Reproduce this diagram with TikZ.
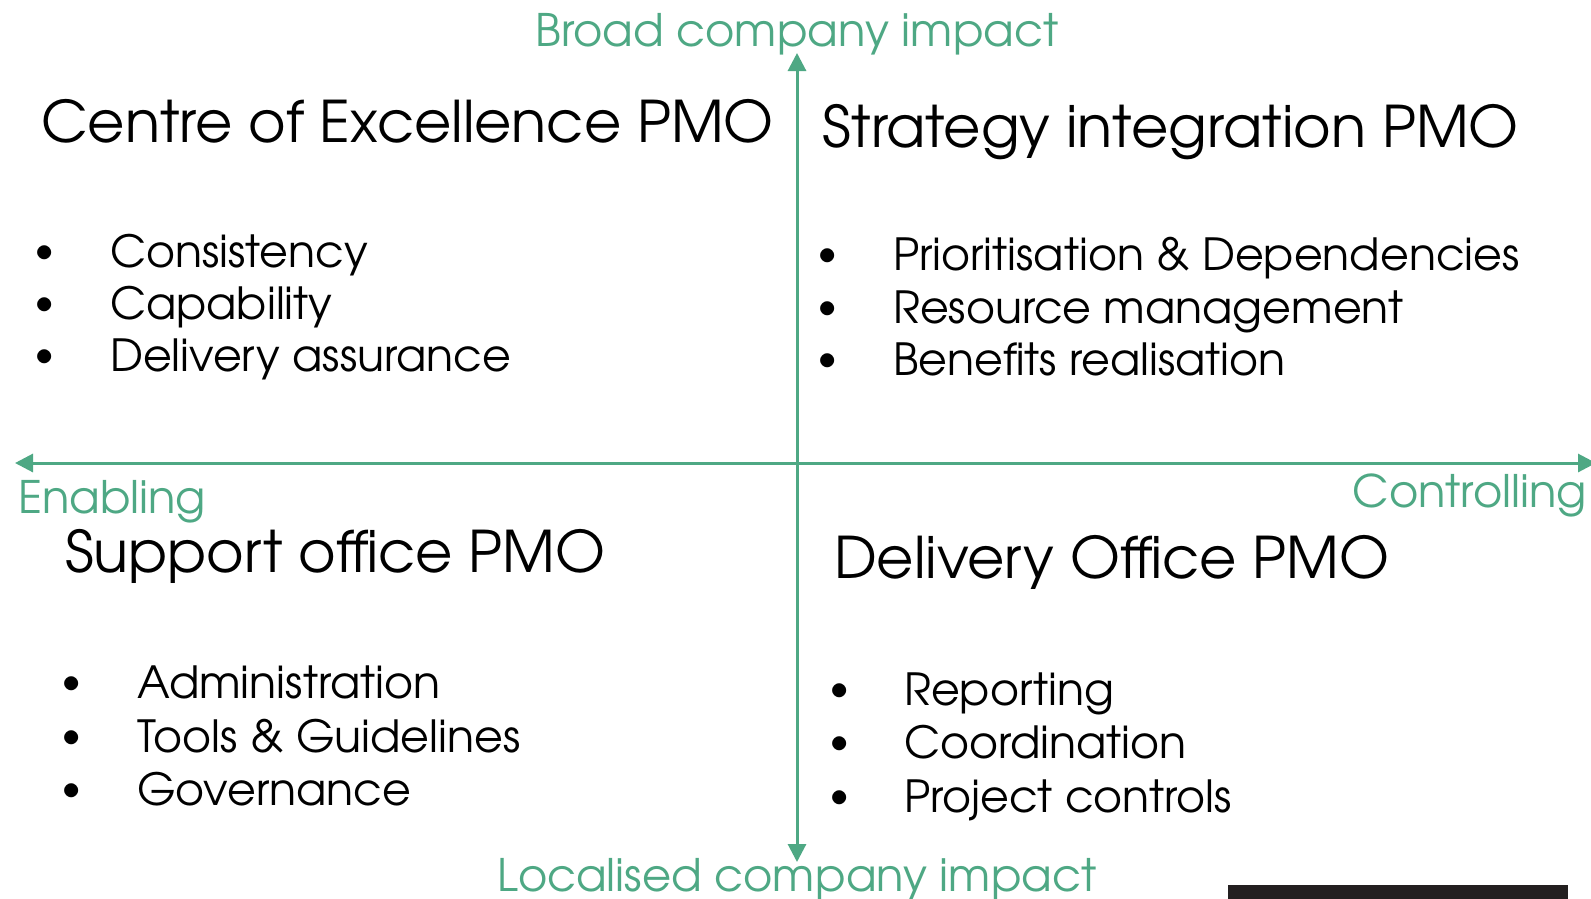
\documentclass[tikz,border=0pt]{standalone}
\usepackage{fontspec}
\setmainfont{TeX Gyre Adventor}
\usetikzlibrary{arrows.meta}
\definecolor{axisgreen}{RGB}{78,168,132}
\definecolor{barblack}{RGB}{35,31,32}
\tikzset{
  axisline/.style={draw=axisgreen, line width=3pt, {Triangle[length=18pt,width=18pt]}-{Triangle[length=18pt,width=18pt]}},
  titletext/.style={inner sep=0pt, anchor=base west, font=\fontsize{57.4}{68}\selectfont},
  itemtext/.style={inner sep=0pt, anchor=base west, font=\fontsize{44.3}{52}\selectfont},
  bullettext/.style={inner sep=0pt, anchor=base, yshift=5pt, font=\fontsize{39}{52}\selectfont},
  axislabel/.style={inner sep=0pt, text=axisgreen, font=\fontsize{44.8}{52}\selectfont},
}
\begin{document}
\begin{tikzpicture}[x=1pt,y=-1pt]
\useasboundingbox (0,0) rectangle (1591,898);
\fill[white] (0,0) rectangle (1591,898);
% axes
\coordinate (vtop) at (797,53);
\coordinate (vbot) at (797,862);
\coordinate (hleft) at (15,463);
\coordinate (hright) at (1596,463);
\draw[axisline] (vbot) -- (vtop);
\draw[axisline] (hleft) -- (hright);
% axis labels
\node[axislabel, anchor=base] (broad) at (797,46) {Broad company impact};
\node[axislabel, anchor=base] (local) at (797,891) {Localised company impact};
\node[axislabel, anchor=base west] (enab) at (18,513) {Enabling};
\node[axislabel, anchor=base east] (ctrl) at (1587,507) {Controlling};
% top left
\node[titletext] (coe) at (41,142) {Centre of Excellence PMO};
\node[bullettext] (b11) at (45,267) {•};
\node[itemtext] (t11) at (110,267) {Consistency};
\node[bullettext] (b12) at (45,319) {•};
\node[itemtext] (t12) at (110,319) {Capability};
\node[bullettext] (b13) at (45,371) {•};
\node[itemtext] (t13) at (110,371) {Delivery assurance};
% top right
\node[titletext] (sip) at (822,147) {Strategy integration PMO};
\node[bullettext] (b21) at (828,270) {•};
\node[itemtext] (t21) at (893,270) {Prioritisation \& Dependencies};
\node[bullettext] (b22) at (828,323) {•};
\node[itemtext] (t22) at (893,323) {Resource management};
\node[bullettext] (b23) at (828,375) {•};
\node[itemtext] (t23) at (893,375) {Benefits realisation};
% bottom left
\node[titletext] (sop) at (65,572) {Support office PMO};
\node[bullettext] (b31) at (72,698) {•};
\node[itemtext] (t31) at (137,698) {Administration};
\node[bullettext] (b32) at (72,752) {•};
\node[itemtext] (t32) at (137,752) {Tools \& Guidelines};
\node[bullettext] (b33) at (72,805) {•};
\node[itemtext] (t33) at (137,805) {Governance};
% bottom right
\node[titletext] (dop) at (834,578) {Delivery Office PMO};
\node[bullettext] (b41) at (840,705) {•};
\node[itemtext] (t41) at (904,705) {Reporting};
\node[bullettext] (b42) at (840,758) {•};
\node[itemtext] (t42) at (904,758) {Coordination};
\node[bullettext] (b43) at (840,812) {•};
\node[itemtext] (t43) at (904,812) {Project controls};
% black bar
\fill[barblack] (1228,885) rectangle (1568,900);
\end{tikzpicture}
\end{document}
